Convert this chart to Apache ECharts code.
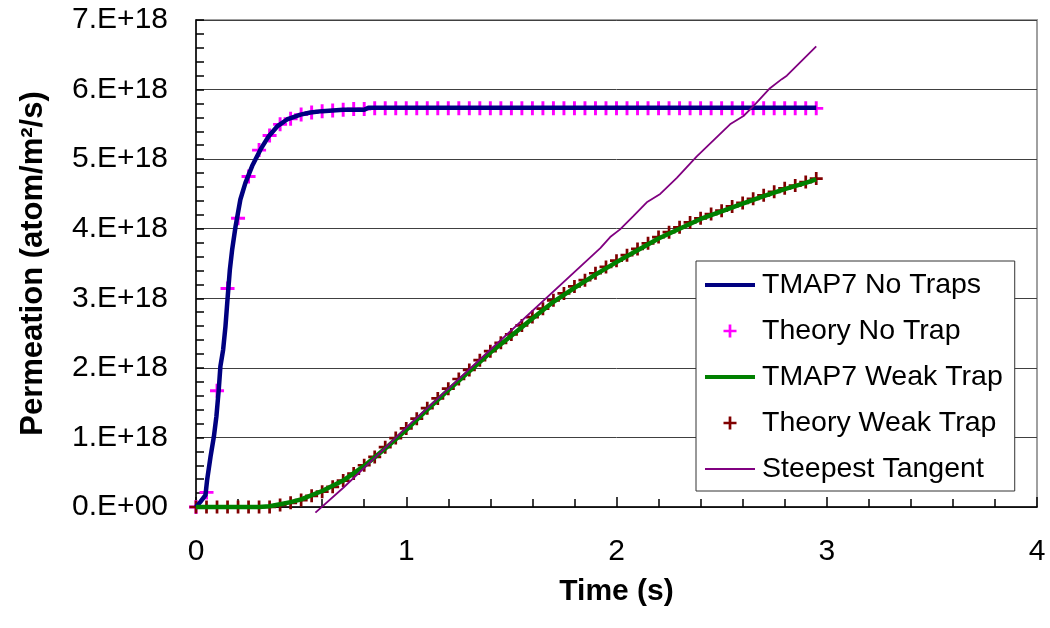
<!DOCTYPE html>
<html><head><meta charset="utf-8">
<script src="https://cdn.jsdelivr.net/npm/echarts/dist/echarts.min.js"></script>
<style>html,body{margin:0;padding:0;background:#fff}#c{width:1050px;height:628px}</style>
</head><body><div id="c"></div>
<script>
// Values in units of 1e18 atom/m^2/s ; time in s
const yTickLabels = ['0.E+00','1.E+18','2.E+18','3.E+18','4.E+18','5.E+18','6.E+18','7.E+18'];
const xTickLabels = ['0','1','2','3','4'];

const theoryT = [0,0.05,0.1,0.15,0.2,0.25,0.3,0.35,0.4,0.45,0.5,0.55,0.6,0.65,0.7,0.75,0.8,0.85,0.9,0.95,
  1.0,1.05,1.1,1.15,1.2,1.25,1.3,1.35,1.4,1.45,1.5,1.55,1.6,1.65,1.7,1.75,1.8,1.85,1.9,1.95,
  2.0,2.05,2.1,2.15,2.2,2.25,2.3,2.35,2.4,2.45,2.5,2.55,2.6,2.65,2.7,2.75,2.8,2.85,2.9,2.95];

const theoryNoTrap = [0,0.21,1.67,3.14,4.15,4.75,5.13,5.34,5.50,5.58,5.64,5.67,5.69,5.70,5.71,5.72,5.72,5.73,5.73,5.73,
  5.73,5.73,5.73,5.73,5.73,5.73,5.73,5.73,5.73,5.73,5.73,5.73,5.73,5.73,5.73,5.73,5.73,5.73,5.73,5.73,
  5.73,5.73,5.73,5.73,5.73,5.73,5.73,5.73,5.73,5.73,5.73,5.73,5.73,5.73,5.73,5.73,5.73,5.73,5.73,5.73];

const theoryWeakTrap = [0,0,0,0,0,0,0,0,0.03,0.06,0.10,0.16,0.22,0.29,0.38,0.48,0.60,0.72,0.86,0.99,
  1.13,1.27,1.42,1.56,1.70,1.84,1.97,2.11,2.24,2.36,2.48,2.61,2.73,2.85,2.97,3.07,3.17,3.26,3.36,3.45,
  3.54,3.62,3.71,3.79,3.88,3.95,4.02,4.09,4.15,4.21,4.26,4.32,4.37,4.43,4.48,4.53,4.58,4.62,4.67,4.72];

const tmapNoT = [0,0.02,0.045,0.053,0.069,0.085,0.097,0.108,0.116,0.129,0.14,0.151,0.161,0.172,0.188,0.211,0.235,0.267,0.307,0.346,0.386,0.433,0.497,0.544,0.6,0.7,0.8,0.82,1.0,1.5,2.0,2.5,2.95];
const tmapNoY = [0,0.07,0.17,0.39,0.72,1.01,1.30,1.68,2.02,2.26,2.59,3.03,3.41,3.70,4.03,4.42,4.66,4.90,5.14,5.33,5.47,5.57,5.64,5.67,5.69,5.71,5.71,5.74,5.74,5.74,5.74,5.74,5.74];

const tmapWeakT = [0,0.3,0.35,0.4,0.45,0.5,0.6,0.7,0.8,0.9,1.0,1.1,1.2,1.3,1.4,1.5,1.6,1.7,1.8,1.9,2.0,2.1,2.2,2.3,2.4,2.5,2.6,2.7,2.8,2.9,2.95];
const tmapWeakY = [0,0,0.01,0.04,0.07,0.11,0.23,0.38,0.59,0.84,1.11,1.40,1.68,1.95,2.22,2.46,2.71,2.95,3.15,3.34,3.52,3.69,3.86,4.00,4.14,4.25,4.36,4.47,4.57,4.66,4.71];

const tangentT = [0.568,0.702,1.0,1.4,1.923,1.97,2.017,2.08,2.144,2.208,2.287,2.382,2.54,2.604,2.65,2.73,2.786,2.81,2.95];
const tangentY = [-0.08,0.28,1.14,2.26,3.72,3.88,3.99,4.18,4.38,4.50,4.73,5.04,5.50,5.62,5.76,6.02,6.15,6.20,6.62];

const seriesNames = ['TMAP7 No Traps','Theory No Trap','TMAP7 Weak Trap','Theory Weak Trap','Steepest Tangent'];

const pairs = (xs, ys) => xs.map((x, i) => [x, ys[i]]);
const FONT = '"Liberation Sans", Arial, sans-serif';
const PLUS = 'path://M4.75,0H7.25V4.75H12V7.25H7.25V12H4.75V7.25H0V4.75H4.75Z';
const THICK_LINE = 'path://M0,0H50V4H0Z';
const THIN_LINE = 'path://M0,0H50V2H0Z';

const chart = echarts.init(document.getElementById('c'), null, {renderer: 'canvas'});
chart.setOption({
  animation: false,
  backgroundColor: '#fff',
  textStyle: {fontFamily: FONT, color: '#000'},
  grid: {left: 196, top: 20, width: 841, height: 487, show: true, borderColor: '#a0a0a0', borderWidth: 2, backgroundColor: 'transparent'},
  xAxis: {
    type: 'value', min: 0, max: 4, interval: 1,
    name: 'Time (s)', nameLocation: 'middle', nameGap: 70,
    nameTextStyle: {fontFamily: FONT, fontSize: 30, fontWeight: 'bold', color: '#000'},
    axisLine: {show: true, lineStyle: {color: '#000', width: 1.5}},
    axisTick: {show: true, inside: true, length: 10, lineStyle: {color: '#000', width: 1.5}},
    minorTick: {show: true, splitNumber: 5, length: 8, lineStyle: {color: '#000', width: 1.5}},
    splitLine: {show: false},
    axisLabel: {fontFamily: FONT, fontSize: 30, color: '#000', margin: 30,
      formatter: v => xTickLabels[Math.round(v)]}
  },
  yAxis: {
    type: 'value', min: 0, max: 7, interval: 1,
    name: 'Permeation (atom/m²/s)', nameLocation: 'middle', nameGap: 147,
    nameTextStyle: {fontFamily: FONT, fontSize: 31, fontWeight: 'bold', color: '#000'},
    axisLine: {show: true, lineStyle: {color: '#000', width: 1.5}},
    axisTick: {show: true, inside: true, length: 8, lineStyle: {color: '#000', width: 1.5}},
    minorTick: {show: true, splitNumber: 5, length: 8, lineStyle: {color: '#000', width: 1.5}},
    splitLine: {show: true, lineStyle: {color: '#404040', width: 1}},
    axisLabel: {fontFamily: FONT, fontSize: 30, color: '#000', margin: 28,
      formatter: v => yTickLabels[Math.round(v)]}
  },
  legend: {
    orient: 'vertical', left: 696, top: 261,
    backgroundColor: '#fff', borderColor: '#333', borderWidth: 1,
    padding: [7, 12, 5, 9], itemWidth: 50, itemHeight: 13, itemGap: 12,
    selectedMode: false,
    textStyle: {fontFamily: FONT, fontSize: 28.5, lineHeight: 34, color: '#000', padding: [0, 0, 0, 2]},
    data: [
      {name: seriesNames[0], icon: THICK_LINE, itemStyle: {color: '#000080'}},
      {name: seriesNames[1], icon: PLUS},
      {name: seriesNames[2], icon: THICK_LINE, itemStyle: {color: '#008000'}},
      {name: seriesNames[3], icon: PLUS},
      {name: seriesNames[4], icon: THIN_LINE, itemStyle: {color: '#800080'}}
    ]
  },
  series: [
    {name: seriesNames[0], type: 'line', data: pairs(tmapNoT, tmapNoY), symbol: 'none', clip: false,
      lineStyle: {color: '#000080', width: 4.5}, itemStyle: {color: '#000080'}},
    {name: seriesNames[1], type: 'scatter', data: pairs(theoryT, theoryNoTrap), symbol: PLUS, symbolSize: 14, clip: false,
      itemStyle: {color: '#ff00ff', opacity: 1}},
    {name: seriesNames[2], type: 'line', data: pairs(tmapWeakT, tmapWeakY), symbol: 'none', clip: false,
      lineStyle: {color: '#008000', width: 4.5}, itemStyle: {color: '#008000'}},
    {name: seriesNames[3], type: 'scatter', data: pairs(theoryT, theoryWeakTrap), symbol: PLUS, symbolSize: 13, clip: false,
      itemStyle: {color: '#800000', opacity: 1}},
    {name: seriesNames[4], type: 'line', data: pairs(tangentT, tangentY), symbol: 'none', clip: false,
      lineStyle: {color: '#800080', width: 1.8}, itemStyle: {color: '#800080'}}
  ]
});
</script></body></html>
